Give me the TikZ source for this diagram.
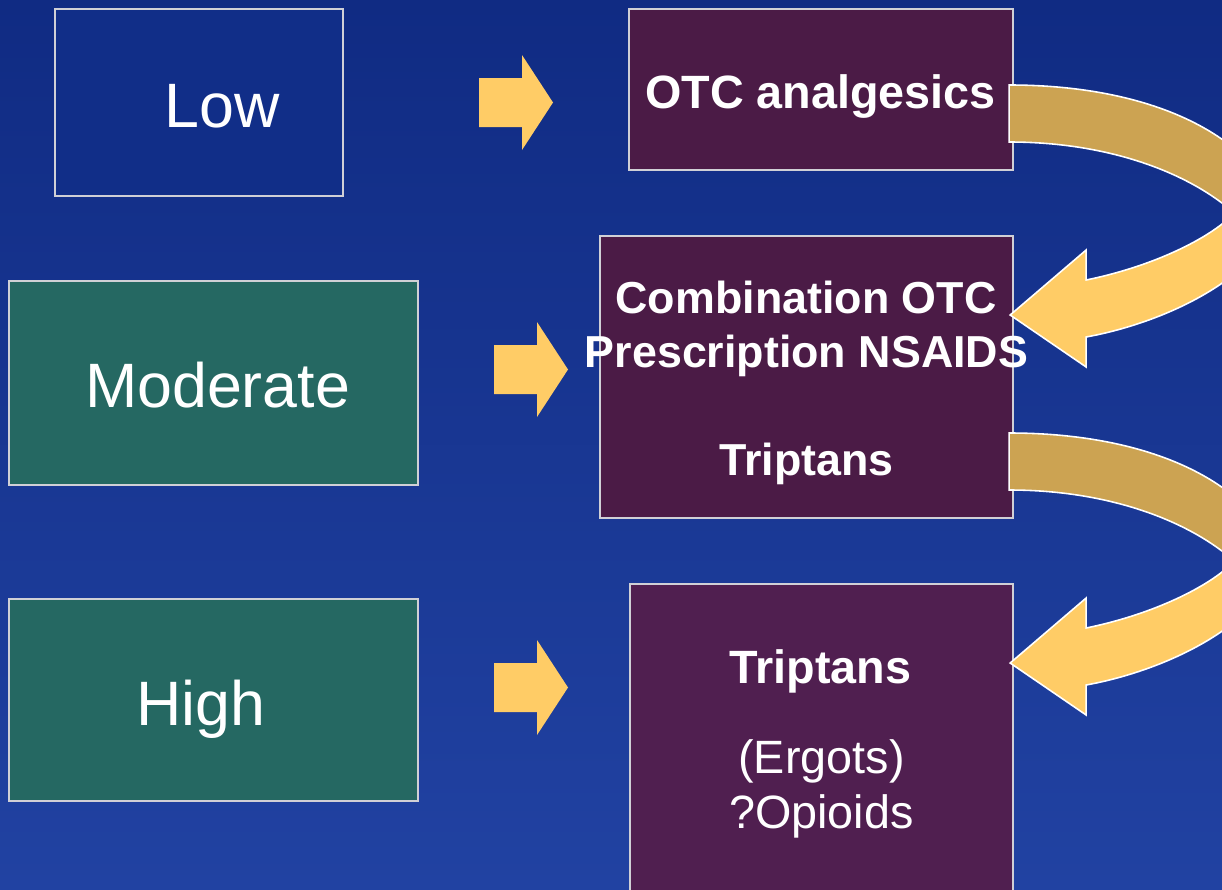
\documentclass[tikz,border=0pt]{standalone}
\usepackage{fontspec}
\setmainfont{Liberation Sans}
\usetikzlibrary{positioning}

\definecolor{bgtop}{RGB}{16,43,131}
\definecolor{bgbot}{RGB}{33,66,162}
\definecolor{lowblue}{RGB}{17,46,136}
\definecolor{levelgreen}{RGB}{37,104,98}
\definecolor{drugpurple}{RGB}{75,27,70}
\definecolor{drugpurpletwo}{RGB}{80,31,80}
\definecolor{boxline}{RGB}{208,208,214}
\definecolor{arrowyellow}{RGB}{255,204,102}
\definecolor{arrowgold}{RGB}{204,163,82}

\tikzset{
    blockarrow/.pic={
        \fill[arrowyellow] (0,-24.5) -- (43,-24.5) -- (43,-47.5) -- (74,0)
            -- (43,47.5) -- (43,24.5) -- (0,24.5) -- cycle;
    },
    bendarrow/.pic={
        \filldraw[arrowgold, draw=white, line width=0.9pt]
            (0,0) .. controls (135,0) and (235,45) .. (268,118)
            -- (225,128) .. controls (180,88) and (100,57) .. (0,57) -- cycle;
        \filldraw[arrowyellow, draw=white, line width=0.9pt, line join=miter]
            (268,118) .. controls (268,180) and (170,235) .. (77,252)
            -- (77,282) -- (1,230) -- (77,165) -- (77,195)
            .. controls (150,180) and (205,150) .. (225,128) -- cycle;
    }
}

\begin{document}
\begin{tikzpicture}[
    x=0.02cm, y=-0.02cm,
    box/.style={draw=boxline, line width=1.3pt, inner sep=0pt},
    boxsize/.style 2 args={minimum width=#1*0.02cm, minimum height=#2*0.02cm},
    levelbox/.style={box, fill=levelgreen},
    drugbox/.style={box, fill=drugpurple},
    leveltext/.style={text=white, anchor=base, inner sep=0pt, font=\fontsize{35.7}{42}\selectfont},
    drugtext/.style={text=white, anchor=base, inner sep=0pt, font=\fontsize{26.6}{32}\selectfont\bfseries},
    combotext/.style={drugtext, font=\fontsize{25.5}{31}\selectfont\bfseries},
    othertext/.style={text=white, anchor=base, inner sep=0pt, font=\fontsize{26.6}{32}\selectfont}
]

% Background
\useasboundingbox (0,0) rectangle (1222,889);
\clip (0,0) rectangle (1222,889);
\shade[top color=bgtop, bottom color=bgbot] (0,0) rectangle (1222,889);

% Severity boxes
\node[box, fill=lowblue, boxsize={288}{187}] (low) at (199,102.5) {};
\node[levelbox, boxsize={409}{204}] (moderate) at (213.5,383) {};
\node[levelbox, boxsize={409}{202}] (high) at (213.5,700) {};

\node[leveltext] (lowtxt) at (222,127) {Low};
\node[leveltext] (moderatetxt) at (217.5,407) {Moderate};
\node[leveltext] (hightxt) at (201,725) {High};

% Treatment boxes
\node[drugbox, boxsize={384}{161}] (otc) at (821,89.5) {};
\node[drugbox, boxsize={413}{282}] (combo) at (806.5,377) {};
\node[drugbox, fill=drugpurpletwo, boxsize={383}{312}] (severe) at (821.5,740) {};

\node[drugtext] (otctxt) at (820.5,108) {OTC analgesics};
\node[combotext] (combotxta) at (806,313) {Combination OTC};
\node[combotext] (combotxtb) at (806.5,367) {Prescription NSAIDS};
\node[combotext] (combotxtc) at (806.5,475) {Triptans};
\node[drugtext] (severetxta) at (820.5,683) {Triptans};
\node[othertext] (severetxtb) at (821.5,773) {(Ergots)};
\node[othertext] (severetxtc) at (821.5,828) {?Opioids};

% Arrows from severity to treatment
\pic at (479,102.5) {blockarrow};
\pic at (494,369.5) {blockarrow};
\pic at (494,687.5) {blockarrow};

% Step up arrows
\pic at ([shift={(-5,-4.5)}]otc.east) {bendarrow};
\pic at ([shift={(-5,56)}]combo.east) {bendarrow};

\end{tikzpicture}
\end{document}
